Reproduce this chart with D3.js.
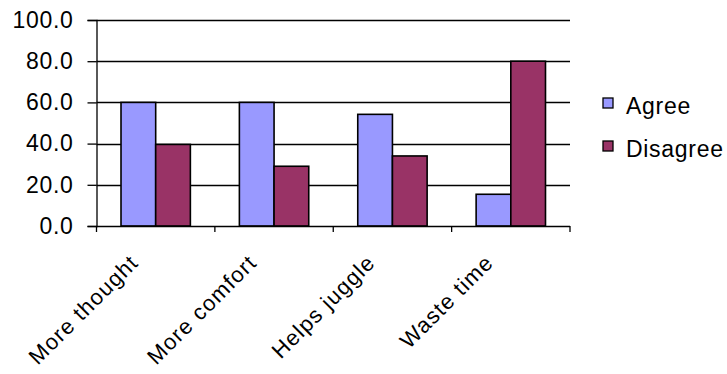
<!DOCTYPE html>
<html>
<head>
<meta charset="utf-8">
<script src="https://cdn.jsdelivr.net/npm/d3@7"></script>
<style>
  html, body { margin: 0; padding: 0; background: #fff; }
  svg { display: block; }
  text { font-family: "Liberation Sans", Arial, sans-serif; fill: #000; }
</style>
</head>
<body>
<svg id="chart" width="727" height="374"></svg>
<script>
// Survey responses (percent)
const categories = ["More thought", "More comfort", "Helps juggle", "Waste time"];
const seriesNames = ["Agree", "Disagree"];
const agreeValues = [60, 60, 54.2, 15.4];
const disagreeValues = [39.6, 29, 34, 80];
const yTicks = [0, 20, 40, 60, 80, 100];

const colors = { Agree: "#9999ff", Disagree: "#993366" };

const svg = d3.select("#chart");
const plot = { left: 96.5, right: 570, top: 20, bottom: 226 };

const x = d3.scaleBand().domain(categories).range([plot.left, plot.right]).padding(0);
const inner = d3.scaleBand().domain(seriesNames)
  .range([x.bandwidth() * 0.207, x.bandwidth() * 0.793]).padding(0);
const y = d3.scaleLinear().domain([0, 100]).range([plot.bottom, plot.top]);

// horizontal gridlines
svg.append("g").selectAll("line").data(yTicks.filter(d => d > 0)).join("line")
  .attr("x1", plot.left).attr("x2", plot.right)
  .attr("y1", d => Math.round(y(d)) + 0.5).attr("y2", d => Math.round(y(d)) + 0.5)
  .attr("stroke", "#000").attr("stroke-width", 1.3);

// bars
const rows = categories.map((c, i) => ({ cat: c, Agree: agreeValues[i], Disagree: disagreeValues[i] }));
svg.append("g").selectAll("g").data(rows).join("g")
  .attr("transform", d => `translate(${x(d.cat)},0)`)
  .selectAll("rect").data(d => seriesNames.map(s => ({ s, v: d[s] }))).join("rect")
  .attr("x", d => inner(d.s))
  .attr("width", inner.bandwidth())
  .attr("y", d => y(d.v))
  .attr("height", d => y(0) - y(d.v))
  .attr("fill", d => colors[d.s])
  .attr("stroke", "#000").attr("stroke-width", 1.6);

// y axis
const yAxis = svg.append("g").attr("transform", `translate(${plot.left},0)`)
  .call(d3.axisLeft(y).tickValues(yTicks).tickFormat(d3.format(".1f")).tickSize(9).tickPadding(14));
yAxis.select(".domain").attr("stroke", "#000").attr("stroke-width", 1.3);
yAxis.selectAll(".tick line").attr("stroke", "#000").attr("stroke-width", 1.3);
yAxis.selectAll(".tick text").attr("font-size", 23).attr("letter-spacing", 0.7)
  .attr("font-family", null).attr("fill", "#000");

// x axis with ticks at category boundaries
const xAxis = svg.append("g").attr("transform", `translate(0,${plot.bottom})`);
xAxis.append("line").attr("x1", plot.left).attr("x2", plot.right)
  .attr("y1", 0.5).attr("y2", 0.5).attr("stroke", "#000").attr("stroke-width", 1.3);
const edges = categories.map(c => x(c)).concat([plot.right]);
xAxis.selectAll("line.tk").data(edges).join("line").attr("class", "tk")
  .attr("x1", d => d).attr("x2", d => d).attr("y1", 0).attr("y2", 6)
  .attr("stroke", "#000").attr("stroke-width", 1.3);
xAxis.selectAll("text").data(categories).join("text")
  .attr("transform", d => `translate(${x(d) + x.bandwidth() / 2 - 16},${38}) rotate(-45)`)
  .attr("text-anchor", "end")
  .attr("font-size", 22)
  .attr("letter-spacing", 1.2)
  .text(d => d);

// legend
const legend = svg.append("g").attr("transform", "translate(603,98)");
const items = legend.selectAll("g").data(seriesNames).join("g")
  .attr("transform", (d, i) => `translate(0,${i * 43})`);
items.append("rect").attr("width", 10).attr("height", 10)
  .attr("fill", d => colors[d]).attr("stroke", "#000").attr("stroke-width", 1.3);
items.append("text").attr("x", 23).attr("y", 16).attr("font-size", 23)
  .attr("letter-spacing", 0.7).text(d => d);
</script>
</body>
</html>
